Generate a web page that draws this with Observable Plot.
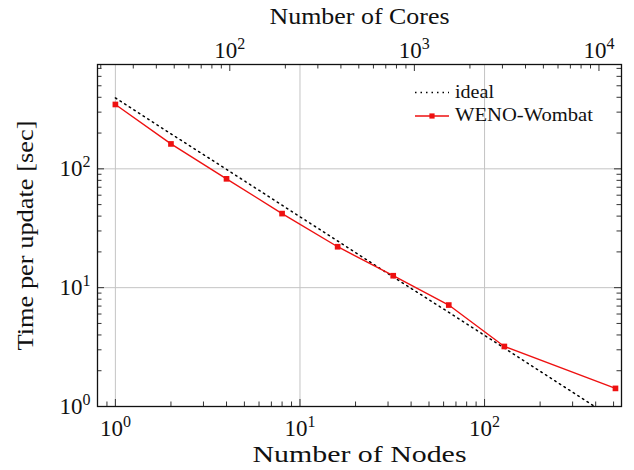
<!DOCTYPE html>
<html>
<head>
<meta charset="utf-8">
<script src="https://cdn.jsdelivr.net/npm/d3@7"></script>
<script src="https://cdn.jsdelivr.net/npm/@observablehq/plot@0.6"></script>
<style>
  body { margin: 0; background: #fff; }
  #wrap { position: relative; width: 634px; height: 470px; background: #fff; }
  #legend { position: absolute; left: 0; top: 0; pointer-events: none; }
</style>
</head>
<body>
<div id="wrap"></div>
<script>
// ---- data ----
const nodes = [1, 2, 4, 8, 16, 32, 64, 128, 512];
const wombatTime = [348, 162, 82.4, 42, 22.1, 12.6, 7.14, 3.2, 1.42];
const idealTime = [395, 197, 99, 49.4, 24.7, 12.3, 6.2, 3.1, 0.77];
const seriesNames = ["ideal", "WENO-Wombat"];
const coresPerNode = 24;

// ---- tick values ----
const xMajorTicks = [1, 10, 100];
const xMinorTicks = [0.8, 0.9, 2, 3, 4, 5, 6, 7, 8, 9, 20, 30, 40, 50, 60, 70, 80, 90, 200, 300, 400, 500];
const coreMajorTicks = [100, 1000, 10000];
const coreMinorTicks = [20, 30, 40, 50, 60, 70, 80, 90, 200, 300, 400, 500, 600, 700, 800, 900,
                        2000, 3000, 4000, 5000, 6000, 7000, 8000, 9000];
const yMajorTicks = [1, 10, 100];
const yMinorTicks = [2, 3, 4, 5, 6, 7, 8, 9, 20, 30, 40, 50, 60, 70, 80, 90, 200, 300, 400, 500, 600, 700];

const xLabel = "Number of Nodes";
const topLabel = "Number of Cores";
const yLabel = "Time per update [sec]";

// ---- layout ----
const W = 634, H = 470, mL = 97, mR = 13, mT = 64, mB = 64;
const frameW = W - mL - mR, frameH = H - mT - mB;
const majorLen = 7, minorLen = 4.5;
const tickColor = "#333";
const gridColor = "#c4c4c4";
const red = "#ee1111";
const font = "'Liberation Serif', 'Times New Roman', serif";

const wombat = nodes.map((n, i) => ({n, t: wombatTime[i]}));
const ideal = nodes.map((n, i) => ({n, t: idealTime[i]}));
const pow = d => "10^" + Math.round(Math.log10(d));

const chart = Plot.plot({
  width: W, height: H,
  marginLeft: mL, marginRight: mR, marginTop: mT, marginBottom: mB,
  style: {fontFamily: font, fontSize: "23px", color: "#111", background: "white", overflow: "visible"},
  x: {type: "log", domain: [0.8, 552]},
  y: {type: "log", domain: [1, 755]},
  marks: [
    Plot.gridX(xMajorTicks, {stroke: gridColor, strokeOpacity: 1, strokeWidth: 1}),
    Plot.gridY(yMajorTicks, {stroke: gridColor, strokeOpacity: 1, strokeWidth: 1}),
    // inward ticks, bottom (nodes)
    Plot.tickX(xMajorTicks, {x: d => d, insetTop: frameH - majorLen, stroke: tickColor}),
    Plot.tickX(xMinorTicks, {x: d => d, insetTop: frameH - minorLen, stroke: tickColor}),
    // inward ticks, top (cores)
    Plot.tickX(coreMajorTicks, {x: d => d / coresPerNode, insetBottom: frameH - majorLen, stroke: tickColor}),
    Plot.tickX(coreMinorTicks, {x: d => d / coresPerNode, insetBottom: frameH - minorLen, stroke: tickColor}),
    // inward ticks, left and right
    Plot.tickY(yMajorTicks, {y: d => d, insetRight: frameW - majorLen, stroke: tickColor}),
    Plot.tickY(yMinorTicks, {y: d => d, insetRight: frameW - minorLen, stroke: tickColor}),
    Plot.tickY(yMajorTicks, {y: d => d, insetLeft: frameW - majorLen, stroke: tickColor}),
    Plot.tickY(yMinorTicks, {y: d => d, insetLeft: frameW - minorLen, stroke: tickColor}),
    // bottom and left axes
    Plot.axisX(xMajorTicks, {anchor: "bottom", tickSize: 0, tickPadding: 13, tickFormat: pow,
      label: xLabel, labelAnchor: "center", labelOffset: 55, labelArrow: "none"}),
    Plot.axisY(yMajorTicks, {anchor: "left", tickSize: 0, tickPadding: 7, tickFormat: pow,
      label: yLabel, labelAnchor: "center", labelOffset: 81, labelArrow: "none"}),
    // top (cores) axis labels
    Plot.text(coreMajorTicks, {x: d => d / coresPerNode, frameAnchor: "top", dy: -7,
      lineAnchor: "bottom", text: d => pow(d), fill: "#111"}),
    Plot.text([topLabel], {frameAnchor: "top", dy: -57, lineAnchor: "top", text: d => d, fill: "#111"}),
    // data
    Plot.line(ideal, {x: "n", y: "t", stroke: "black", strokeWidth: 1.5, strokeDasharray: "1.5,4", clip: true}),
    Plot.line(wombat, {x: "n", y: "t", stroke: red, strokeWidth: 1.4}),
    Plot.dot(wombat, {x: "n", y: "t", symbol: "square", r: 3.2, fill: red, stroke: "none"}),
    Plot.frame({stroke: "#111", strokeWidth: 1.3})
  ]
});

const wrap = document.getElementById("wrap");
wrap.appendChild(chart);

// superscript exponents in tick labels
const SVGNS = "http://www.w3.org/2000/svg";
chart.querySelectorAll("text").forEach(t => {
  const m = /^10\^(-?\d+)$/.exec(t.textContent);
  if (m) {
    t.textContent = "10";
    const ts = document.createElementNS(SVGNS, "tspan");
    ts.setAttribute("dy", "-9");
    ts.setAttribute("font-size", "16");
    ts.textContent = m[1];
    t.appendChild(ts);
  }
});
// widen serif labels to match Computer Modern proportions
const labelWidths = {[xLabel]: 214, [topLabel]: 180, [yLabel]: 230};
chart.querySelectorAll("text").forEach(t => {
  const w = labelWidths[t.textContent];
  if (w) { t.setAttribute("textLength", w); t.setAttribute("lengthAdjust", "spacingAndGlyphs"); }
});

// legend
const lg = document.createElementNS(SVGNS, "svg");
lg.setAttribute("id", "legend");
lg.setAttribute("width", W); lg.setAttribute("height", H);
const rows = [
  {name: seriesNames[0], y: 92.5, stroke: "black", dash: "1.5,4", marker: false, w: 39},
  {name: seriesNames[1], y: 116, stroke: red, dash: null, marker: true, w: 138}
];
rows.forEach(r => {
  const l = document.createElementNS(SVGNS, "line");
  l.setAttribute("x1", 415); l.setAttribute("x2", 449);
  l.setAttribute("y1", r.y); l.setAttribute("y2", r.y);
  l.setAttribute("stroke", r.stroke);
  l.setAttribute("stroke-width", r.marker ? 1.4 : 1.5);
  if (r.dash) l.setAttribute("stroke-dasharray", r.dash);
  lg.appendChild(l);
  if (r.marker) {
    const s = document.createElementNS(SVGNS, "rect");
    s.setAttribute("x", 432 - 2.6); s.setAttribute("y", r.y - 2.6);
    s.setAttribute("width", 5.2); s.setAttribute("height", 5.2);
    s.setAttribute("fill", red);
    lg.appendChild(s);
  }
  const tx = document.createElementNS(SVGNS, "text");
  tx.setAttribute("x", 455); tx.setAttribute("y", r.y + 5.3);
  tx.setAttribute("font-family", font); tx.setAttribute("font-size", "19");
  tx.setAttribute("fill", "#111");
  tx.setAttribute("textLength", r.w); tx.setAttribute("lengthAdjust", "spacingAndGlyphs");
  tx.textContent = r.name;
  lg.appendChild(tx);
});
wrap.appendChild(lg);
</script>
</body>
</html>
